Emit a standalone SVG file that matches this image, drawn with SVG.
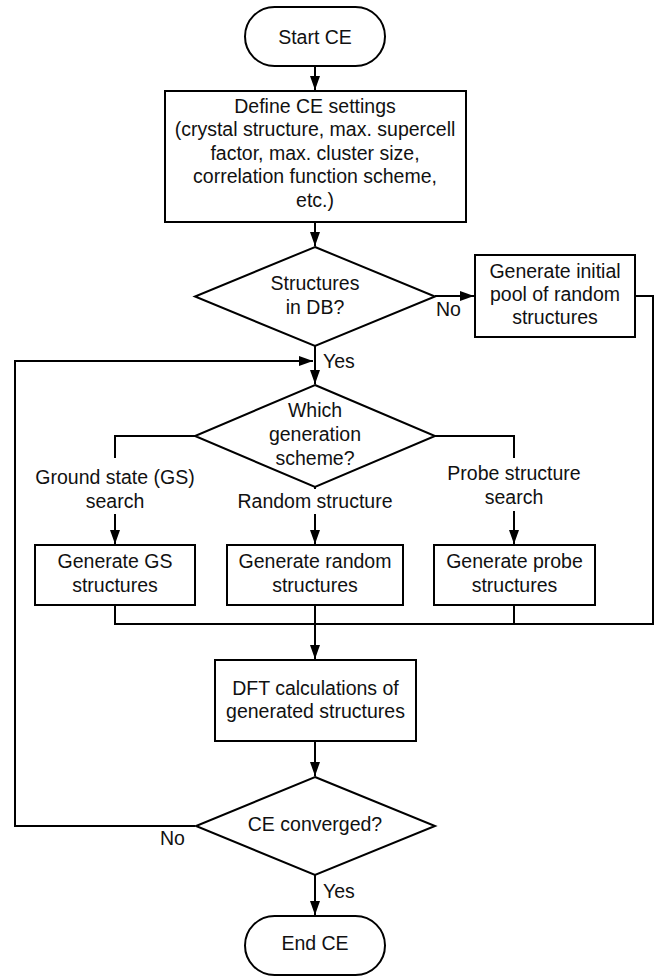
<svg xmlns="http://www.w3.org/2000/svg" width="657" height="976" viewBox="0 0 657 976">
<style>
.n{fill:#fff;stroke:#000;stroke-width:2}
.t{font-family:"Liberation Sans",Arial,sans-serif;font-size:19.5px;fill:#111;text-anchor:middle}
.l{font-family:"Liberation Sans",Arial,sans-serif;font-size:19.5px;fill:#111}
.c{fill:none;stroke:#000;stroke-width:2}
.bg{fill:#fff;stroke:none}
</style>
<defs>
<marker id="a" markerUnits="userSpaceOnUse" markerWidth="15" markerHeight="11" refX="14" refY="5" orient="auto">
<path d="M0,0 L14,5 L0,10 z" fill="#000"/>
</marker>
</defs>
<rect width="657" height="976" fill="#fff"/>
<g id="connectors">
<path class="c" d="M315 67 V90" marker-end="url(#a)"/>
<path class="c" d="M315 222 V246" marker-end="url(#a)"/>
<path class="c" d="M435 296 H474" marker-end="url(#a)"/>
<path class="c" d="M315 346 V384" marker-end="url(#a)"/>
<path class="c" d="M635 296 H653 V624 H115 V605"/>
<path class="c" d="M514 605 V624"/>
<path class="c" d="M315 605 V659" marker-end="url(#a)"/>
<path class="c" d="M195 826 H15 V361 H313" marker-end="url(#a)"/>
<path class="c" d="M195 436 H115 V544" marker-end="url(#a)"/>
<path class="c" d="M315 487 V544" marker-end="url(#a)"/>
<path class="c" d="M435 436 H514 V544" marker-end="url(#a)"/>
<path class="c" d="M315 741 V776" marker-end="url(#a)"/>
<path class="c" d="M315 875 V915" marker-end="url(#a)"/>
<rect class="bg" x="34" y="458" width="162" height="56"/>
<rect class="bg" x="232" y="489" width="166" height="25"/>
<rect class="bg" x="442" y="458" width="146" height="53"/>
<text class="l" x="436" y="316">No</text>
<text class="l" x="323" y="368">Yes</text>
<text class="l" x="160" y="845">No</text>
<text class="l" x="323" y="898">Yes</text>
<text class="t" x="115" y="484">Ground state (GS)</text>
<text class="t" x="115" y="508">search</text>
<text class="t" x="315" y="508">Random structure</text>
<text class="t" x="514" y="480">Probe structure</text>
<text class="t" x="514" y="504">search</text>
</g>
<g id="start">
<rect class="n" x="245" y="7" width="140" height="59" rx="29.5"/>
<text class="t" x="315" y="44">Start CE</text>
</g>
<g id="define">
<rect class="n" x="165" y="91" width="301" height="131"/>
<text class="t" x="315" y="112.5">Define CE settings</text>
<text class="t" x="315" y="136">(crystal structure, max. supercell</text>
<text class="t" x="315" y="159.5">factor, max. cluster size,</text>
<text class="t" x="315" y="183">correlation function scheme,</text>
<text class="t" x="315" y="206.5">etc.)</text>
</g>
<g id="indb">
<polygon class="n" points="315,247 435,296.5 315,346 195,296.5"/>
<text class="t" x="315" y="290">Structures</text>
<text class="t" x="315" y="314">in DB?</text>
</g>
<g id="initial">
<rect class="n" x="475" y="255" width="160" height="82"/>
<text class="t" x="555" y="278">Generate initial</text>
<text class="t" x="555" y="301">pool of random</text>
<text class="t" x="555" y="324">structures</text>
</g>
<g id="scheme">
<polygon class="n" points="315,385 435,436 315,487 195,436"/>
<text class="t" x="315" y="417">Which</text>
<text class="t" x="315" y="441">generation</text>
<text class="t" x="315" y="465">scheme?</text>
</g>
<g id="gs">
<rect class="n" x="35" y="545" width="160" height="60"/>
<text class="t" x="115" y="568">Generate GS</text>
<text class="t" x="115" y="592">structures</text>
</g>
<g id="random">
<rect class="n" x="227" y="545" width="176" height="60"/>
<text class="t" x="315" y="568">Generate random</text>
<text class="t" x="315" y="592">structures</text>
</g>
<g id="probe">
<rect class="n" x="434" y="545" width="161" height="60"/>
<text class="t" x="514.5" y="568">Generate probe</text>
<text class="t" x="514.5" y="592">structures</text>
</g>
<g id="dft">
<rect class="n" x="215" y="660" width="201" height="81"/>
<text class="t" x="315.5" y="695">DFT calculations of</text>
<text class="t" x="315.5" y="718">generated structures</text>
</g>
<g id="converged">
<polygon class="n" points="315,777 435,826 315,875 196,826"/>
<text class="t" x="315" y="831">CE converged?</text>
</g>
<g id="end">
<rect class="n" x="245" y="916" width="140" height="59" rx="29.5"/>
<text class="t" x="315" y="950">End CE</text>
</g>
</svg>
